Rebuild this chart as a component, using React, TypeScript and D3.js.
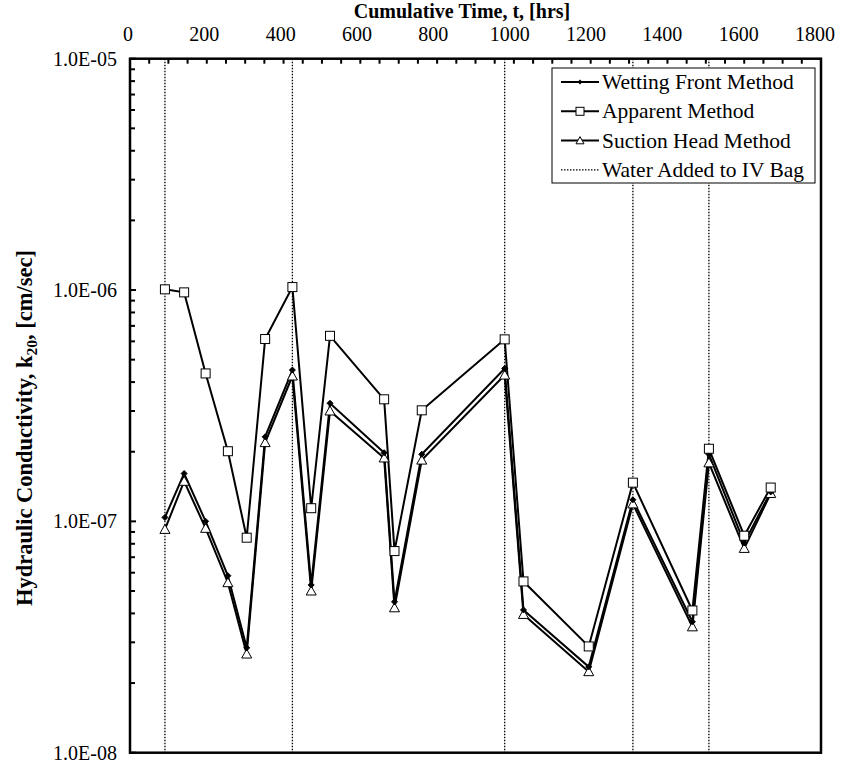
import React from "react";
import * as d3 from "d3";

const times = [91, 141, 197, 255, 304, 352, 423, 472, 521, 662, 689, 760, 976, 1025, 1195, 1310, 1465, 1508, 1600, 1669];
const wettingFront = [1.04e-7, 1.61e-7, 1.0e-7, 5.82e-8, 2.84e-8, 2.32e-7, 4.51e-7, 5.31e-8, 3.24e-7, 1.98e-7, 4.49e-8, 1.95e-7, 4.58e-7, 4.14e-8, 2.35e-8, 1.24e-7, 3.68e-8, 1.95e-7, 8.07e-8, 1.34e-7];
const apparent = [1.007e-6, 9.77e-7, 4.36e-7, 2.01e-7, 8.5e-8, 6.14e-7, 1.03e-6, 1.14e-7, 6.34e-7, 3.37e-7, 7.44e-8, 3.02e-7, 6.12e-7, 5.5e-8, 2.88e-8, 1.47e-7, 4.12e-8, 2.06e-7, 8.67e-8, 1.4e-7];
const suctionHead = [9.23e-8, 1.49e-7, 9.33e-8, 5.43e-8, 2.67e-8, 2.19e-7, 4.25e-7, 5.0e-8, 3.0e-7, 1.88e-7, 4.23e-8, 1.84e-7, 4.29e-7, 3.96e-8, 2.24e-8, 1.19e-7, 3.5e-8, 1.79e-7, 7.64e-8, 1.32e-7];
const waterAdded = [91, 423, 976, 1310, 1508];
const xTickLabels = [0, 200, 400, 600, 800, 1000, 1200, 1400, 1600, 1800];
const yTickLabels = ["1.0E-05", "1.0E-06", "1.0E-07", "1.0E-08"];
const yDecades = [1e-5, 1e-6, 1e-7, 1e-8];
const legendLabels = ["Wetting Front Method", "Apparent Method", "Suction Head Method", "Water Added to IV Bag"];

const W = 847, H = 765;
const L = 130, R = 821, T = 58.7, B = 752.7;
const FONT = "'Liberation Serif', 'DejaVu Serif', serif";

export default function App() {
  const x = d3.scaleLinear().domain([0, 1800]).range([L, R]);
  const xLab = d3.scaleLinear().domain([0, 1800]).range([L - 2, R - 6]);
  const y = d3.scaleLog().domain([1e-8, 1e-5]).range([B, T]);
  const line = d3.line<[number, number]>().x(d => x(d[0])).y(d => y(d[1]));
  const pts = (vals: number[]) => times.map((t, i) => [t, vals[i]] as [number, number]);

  const minorX = d3.range(0, 1801, 50);
  const minorY: number[] = [];
  [1e-8, 1e-7, 1e-6].forEach(dec => { for (let k = 2; k <= 9; k++) minorY.push(dec * k); });

  const tri = (cx: number, cy: number, s = 5) => `M${cx},${cy - s}L${cx + s},${cy + s * 0.8}L${cx - s},${cy + s * 0.8}Z`;
  const diamond = (cx: number, cy: number, s = 3) => `M${cx},${cy - s}L${cx + s},${cy}L${cx},${cy + s}L${cx - s},${cy}Z`;

  const legX = 552, legY = 68, legW = 263, legH = 115, rowH = 29.3;

  return (
    <svg width={W} height={H} style={{ display: "block", position: "absolute", left: 0, top: 0 }} fontFamily={FONT}>
      <rect x={0} y={0} width={W} height={H} fill="#fff" />
      {waterAdded.map((t, i) => (
        <line key={i} x1={x(t)} x2={x(t)} y1={T} y2={B} stroke="#000" strokeWidth={1.3} strokeDasharray="1.5,1.5" />
      ))}
      <path d={line(pts(suctionHead)) || ""} fill="none" stroke="#000" strokeWidth={2} />
      <path d={line(pts(wettingFront)) || ""} fill="none" stroke="#000" strokeWidth={2} />
      <path d={line(pts(apparent)) || ""} fill="none" stroke="#000" strokeWidth={2} />
      {pts(suctionHead).map((d, i) => (
        <path key={"s" + i} d={tri(x(d[0]), y(d[1]))} fill="#fff" stroke="#000" strokeWidth={1} />
      ))}
      {pts(wettingFront).map((d, i) => (
        <path key={"w" + i} d={diamond(x(d[0]), y(d[1]))} fill="#000" stroke="#000" strokeWidth={1} />
      ))}
      {pts(apparent).map((d, i) => (
        <rect key={"a" + i} x={x(d[0]) - 4.5} y={y(d[1]) - 4.5} width={9} height={9} fill="#fff" stroke="#000" strokeWidth={1} />
      ))}
      {minorX.map((t, i) => (
        <line key={"tx" + i} x1={x(t)} x2={x(t)} y1={T} y2={T + 5} stroke="#000" strokeWidth={2} />
      ))}
      {yDecades.map((v, i) => (
        <line key={"yd" + i} x1={L} x2={L + 6} y1={y(v)} y2={y(v)} stroke="#000" strokeWidth={2} />
      ))}
      {minorY.map((v, i) => (
        <line key={"ym" + i} x1={L} x2={L + 5} y1={y(v)} y2={y(v)} stroke="#000" strokeWidth={2} />
      ))}
      <rect x={L} y={T} width={R - L} height={B - T} fill="none" stroke="#000" strokeWidth={2.5} />
      {xTickLabels.map((t, i) => (
        <text key={"xl" + i} x={xLab(t)} y={40.5} textAnchor="middle" fontSize={20}>{t}</text>
      ))}
      {yDecades.map((v, i) => (
        <text key={"yl" + i} x={117} y={y(v) + 7} textAnchor="end" fontSize={20}>{yTickLabels[i]}</text>
      ))}
      <text x={462} y={18} textAnchor="middle" fontSize={20} fontWeight="bold">Cumulative Time, t, [hrs]</text>
      <text transform={`translate(32,428) rotate(-90)`} textAnchor="middle" fontSize={22.5} fontWeight="bold">
        Hydraulic Conductivity, k<tspan fontSize={15.5} dy={5}>20</tspan><tspan dy={-5}>, [cm/sec]</tspan>
      </text>
      <rect x={legX} y={legY} width={legW} height={legH} fill="#fff" stroke="#000" strokeWidth={1} />
      {legendLabels.map((lab, i) => {
        const cy = legY + 14 + i * rowH;
        const x1 = legX + 9, x2 = legX + 47, cx = (x1 + x2) / 2;
        return (
          <g key={"lg" + i}>
            <line x1={x1} x2={x2} y1={cy} y2={cy} stroke="#000" strokeWidth={i === 3 ? 1.3 : 2} strokeDasharray={i === 3 ? "1.5,1.5" : undefined} />
            {i === 0 && <path d={diamond(cx, cy, 2.5)} fill="#000" />}
            {i === 1 && <rect x={cx - 4} y={cy - 4} width={8} height={8} fill="#fff" stroke="#000" strokeWidth={1} />}
            {i === 2 && <path d={tri(cx, cy, 4)} fill="#fff" stroke="#000" strokeWidth={1} />}
            <text x={legX + 50} y={cy + 7} fontSize={21.5}>{lab}</text>
          </g>
        );
      })}
    </svg>
  );
}
